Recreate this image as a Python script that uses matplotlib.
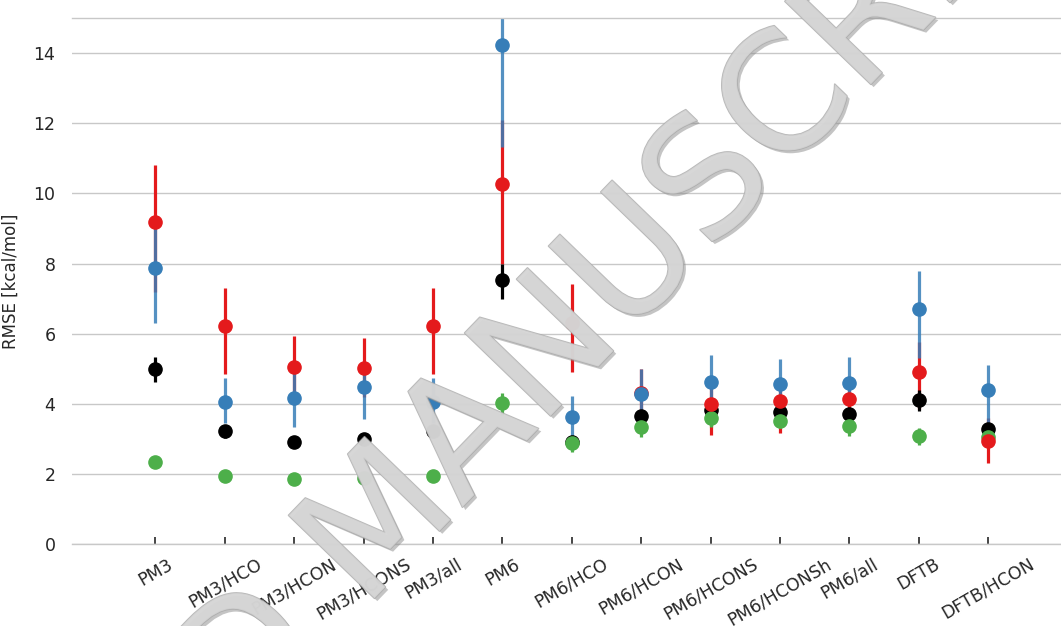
"""
RMSE per semi-empirical method, four data sets, with error bars.
"""

import matplotlib
matplotlib.use("Agg")
import matplotlib.pyplot as plt
import matplotlib.patheffects as pe
import numpy as np

methods = ["PM3", "PM3/HCO", "PM3/HCON", "PM3/HCONS", "PM3/all", "PM6",
           "PM6/HCO", "PM6/HCON", "PM6/HCONS", "PM6/HCONSh", "PM6/all",
           "DFTB", "DFTB/HCON"]

red_mean = [9.18, 6.22, 5.06, 5.01, 6.22, 10.27, 6.31, 4.30, 3.99, 4.08, 4.15, 4.91, 2.94]
red_lo = [7.18, 4.85, 4.20, 4.20, 4.85, 8.00, 4.91, 3.60, 3.11, 3.18, 3.75, 3.85, 2.30]
red_hi = [10.80, 7.29, 5.93, 5.88, 7.29, 12.09, 7.41, 5.00, 4.60, 4.60, 4.55, 5.77, 3.60]

blue_mean = [7.87, 4.06, 4.17, 4.47, 4.06, 14.22, 3.63, 4.28, 4.63, 4.55, 4.58, 6.69, 4.39]
blue_lo = [6.30, 3.44, 3.33, 3.56, 3.44, 11.32, 3.06, 3.82, 4.00, 4.00, 4.00, 5.30, 3.30]
blue_hi = [9.00, 4.74, 4.87, 5.20, 4.74, 16.00, 4.23, 4.98, 5.39, 5.29, 5.34, 7.79, 5.12]

black_mean = [4.99, 3.23, 2.92, 2.99, 3.23, 7.53, 2.90, 3.65, 3.82, 3.77, 3.70, 4.10, 3.27]
black_lo = [4.62, 3.02, 2.78, 2.85, 3.02, 6.98, 2.75, 3.50, 3.70, 3.65, 3.55, 3.80, 3.10]
black_hi = [5.33, 3.38, 3.08, 3.13, 3.38, 8.00, 3.05, 3.80, 3.95, 3.90, 3.85, 4.40, 3.45]

green_mean = [2.34, 1.95, 1.85, 1.87, 1.95, 4.03, 2.87, 3.35, 3.58, 3.51, 3.37, 3.08, 3.06]
green_lo = [2.25, 1.90, 1.80, 1.82, 1.90, 3.68, 2.62, 3.06, 3.35, 3.30, 3.08, 2.82, 2.90]
green_hi = [2.45, 2.00, 1.90, 1.92, 2.00, 4.31, 3.10, 3.60, 3.80, 3.70, 3.60, 3.32, 3.20]

yticks = [0, 2, 4, 6, 8, 10, 12, 14]


def main():
    fig = plt.figure(figsize=(10.61, 6.26), dpi=100)
    ax = fig.add_axes([0.068, 0.131, 0.932, 0.840])

    x = np.arange(len(methods))

    # error lines first (red, blue, black, green), then markers on top
    lines = [
        (red_mean, red_lo, red_hi, "#e41a1c", 1.0),
        (blue_mean, blue_lo, blue_hi, "#377eb8", 0.85),
        (black_mean, black_lo, black_hi, "black", 1.0),
        (green_mean, green_lo, green_hi, "#4daf4a", 1.0),
    ]
    for mean, lo, hi, color, alpha in lines:
        mean = np.array(mean)
        err = [mean - np.array(lo), np.array(hi) - mean]
        ax.errorbar(x, mean, yerr=err, fmt="none", ecolor=color,
                    elinewidth=2.3, capsize=0, alpha=alpha, zorder=2)

    points = [
        (black_mean, "black"),
        (green_mean, "#4daf4a"),
        (red_mean, "#e41a1c"),
        (blue_mean, "#377eb8"),
    ]
    for mean, color in points:
        ax.plot(x, mean, "o", linestyle="none", color=color,
                markersize=9.5, zorder=3)

    ax.set_xlim(-1.2, 13.05)
    ax.set_ylim(0, 15)
    ax.set_yticks(yticks)
    ax.set_xticks(x)
    ax.set_xticklabels(methods, rotation=30, ha="center")

    ax.yaxis.grid(True, color="#c8c8c8", linewidth=1.0)
    ax.set_axisbelow(True)
    for side in ["left", "right"]:
        ax.spines[side].set_visible(False)
    for side in ["top", "bottom"]:
        ax.spines[side].set_color("#c8c8c8")
        ax.spines[side].set_linewidth(1.0)

    ax.tick_params(axis="y", length=0, pad=12, labelsize=12.5,
                   labelcolor="#262626")
    ax.tick_params(axis="x", direction="in", length=5, width=1.2,
                   color="#262626", labelsize=12.5, labelcolor="#262626", pad=8)
    ax.set_ylabel("RMSE [kcal/mol]", fontsize=12, color="#262626", labelpad=10)

    # diagonal watermark of the manuscript
    fig.text(384 / 1061, 1 - 523 / 626, "ACCEPTED MANUSCRIPT", fontsize=118,
             rotation=46, rotation_mode="anchor", ha="center", va="center",
             color="#d6d6d6", alpha=0.8, zorder=10,
             path_effects=[pe.SimplePatchShadow(offset=(2, -2),
                                                shadow_rgbFace="#8a8a8a",
                                                alpha=0.5),
                           pe.withStroke(linewidth=1.2, foreground="#a8a8a8")])

    fig.savefig("out.png", dpi=100)


if __name__ == "__main__":
    main()
